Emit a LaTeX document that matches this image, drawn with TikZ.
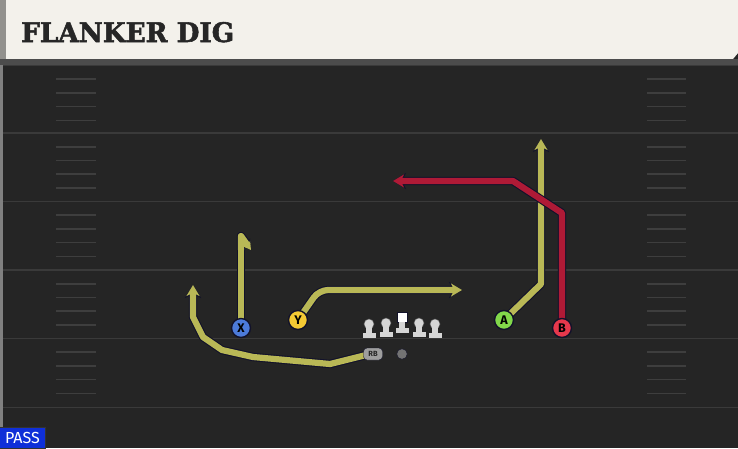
\documentclass[tikz,border=0pt]{standalone}
\usepackage{fontspec}
\setmainfont{DejaVu Sans}
\newfontfamily\titlefont[FakeBold=2]{DejaVu Serif Bold}
\newfontfamily\labfont{Fira Sans}
\usetikzlibrary{arrows.meta}
\definecolor{field}{HTML}{252525}
\definecolor{header}{HTML}{F3F1EB}
\definecolor{yardc}{HTML}{3A3A3A}
\definecolor{hashc}{HTML}{3E3E3E}
\definecolor{routey}{HTML}{B9B856}
\definecolor{router}{HTML}{AF1A36}
\definecolor{outl}{HTML}{12122A}
\definecolor{pblue}{HTML}{4C7BDA}
\definecolor{pyellow}{HTML}{F4C934}
\definecolor{pgreen}{HTML}{82D84A}
\definecolor{pred}{HTML}{E6384C}
\definecolor{linec}{HTML}{D6D6D6}
\definecolor{passc}{HTML}{0F2FD8}
\tikzset{
  x=1pt,y=-1pt,
  yard/.style={draw=yardc,line width=1.8pt},
  hashm/.style={draw=hashc,line width=1.6pt},
  routeout/.style={draw=outl,line width=8.4pt,line join=round,-{Stealth[length=13pt,width=16pt,inset=4pt]}},
  routein/.style={line width=6.2pt,line join=round,-{Stealth[length=11pt,width=13pt,inset=3.2pt]}},
  player/.style={circle,draw=outl,line width=1.4pt,minimum size=19pt,inner sep=0pt,font=\labfont\bfseries\fontsize{12.5}{12.5}\selectfont,text=black},
  lineman/.style={fill=linec},
}
\begin{document}
\begin{tikzpicture}
\useasboundingbox (0,0) rectangle (738,448);
\fill[field] (0,0) rectangle (738,448);
% header
\fill[header] (0,0) -- (738,0) -- (738,53) -- (733,59) -- (0,59) -- cycle;
\fill[black!40!header] (0,0) rectangle (6,59);
\fill[black!70] (0,59) rectangle (738,65);
\fill[black!50] (0,65) rectangle (3,448);
\node[anchor=base west,inner sep=0pt,text=black!85] (title) at (21,42) {\resizebox{213pt}{20pt}{\titlefont FLANKER DIG}};
% yard lines
\foreach \yy in {65.5,133,201.5,270,338.5,407.5} {\draw[yard] (3,\yy) -- (738,\yy);}
% hash marks
\foreach \yy in {65.5,133,201.5,270,338.5} {
  \foreach \k in {13.7,27.4,41,55} {
    \draw[hashm] (56,\yy+\k) -- (96,\yy+\k);
    \draw[hashm] (647,\yy+\k) -- (686,\yy+\k);
  }
}
% coordinates
\coordinate (xend) at (241,236);
\coordinate (xhook) at (251,250);
\coordinate (y1) at (319,290);
\coordinate (yend) at (462,290);
\coordinate (a1) at (541,284);
\coordinate (aend) at (541,139);
\coordinate (b1) at (562,213);
\coordinate (b2) at (513,181);
\coordinate (bend) at (393,181);
\coordinate (r1) at (330,364);
\coordinate (r2) at (253,357);
\coordinate (r3) at (222,350);
\coordinate (r4) at (203,337);
\coordinate (r5) at (193,317);
\coordinate (rend) at (193,285);
\coordinate (rbstart) at (366,355);
% routes
\draw[draw=outl,line width=8.4pt,line join=round] (241,328) -- (xend);
\draw[routeout,-{Stealth[length=10pt,width=12pt,inset=3pt]}] (241,250) -- (xend) -- (xhook);
\draw[routey,line width=6.2pt,line join=round] (241,328) -- (xend);
\draw[routein,draw=routey,-{Stealth[length=8pt,width=9pt,inset=2.4pt]}] (241,250) -- (xend) -- (xhook);
\draw[routeout,rounded corners=9pt] (298,320) -- (y1) -- (yend);
\draw[routein,draw=routey,rounded corners=9pt] (298,320) -- (y1) -- (yend);
\draw[routeout] (504,320) -- (a1) -- (aend);
\draw[routein,draw=routey] (504,320) -- (a1) -- (aend);
\draw[routeout] (562,328) -- (b1) -- (b2) -- (bend);
\draw[routein,draw=router] (562,328) -- (b1) -- (b2) -- (bend);
\draw[routeout] (rbstart) -- (r1) -- (r2) -- (r3) -- (r4) -- (r5) -- (rend);
\draw[routein,draw=routey] (rbstart) -- (r1) -- (r2) -- (r3) -- (r4) -- (r5) -- (rend);
% players
\node[player,fill=pblue] (X) at (241,328) {X};
\node[player,fill=pyellow] (Y) at (298,320) {Y};
\node[player,fill=pgreen] (A) at (504,320) {A};
\node[player,fill=pred] (B) at (562,328) {B};
% linemen
\foreach \lx/\ly in {369/324,386/323,419/323,435/324} {
  \fill[black!60] (\lx,\ly) circle (5.3);
  \fill[lineman] (\lx,\ly) circle (4.6);
  \fill[lineman] (\lx-3,\ly) rectangle (\lx+3,\ly+10);
  \fill[lineman] (\lx-6.5,\ly+9) rectangle (\lx+6.5,\ly+14);
}
\draw[draw=outl,fill=white,line width=0.8pt] (397,312) rectangle (407,322);
\fill[lineman] (399,322) rectangle (405,329);
\fill[lineman] (395.5,328) rectangle (408.5,333);
% RB and QB
\node[draw=outl,fill=black!38,rounded corners=3.5pt,minimum width=19pt,minimum height=12pt,inner sep=0pt,font=\labfont\bfseries\fontsize{7.5}{7.5}\selectfont,text=black!85] (RB) at (373,354) {RB};
\node[circle,fill=black!55,draw=outl,minimum size=10.5pt,inner sep=0pt] (QB) at (402,354) {};
% pass label
\node[fill=passc,draw=black!80,line width=1pt,anchor=south west,minimum width=46pt,minimum height=21pt,inner sep=0pt,text=white,font=\labfont\fontsize{16}{16}\selectfont] (pass) at (-1,449) {PASS};
\end{tikzpicture}
\end{document}
